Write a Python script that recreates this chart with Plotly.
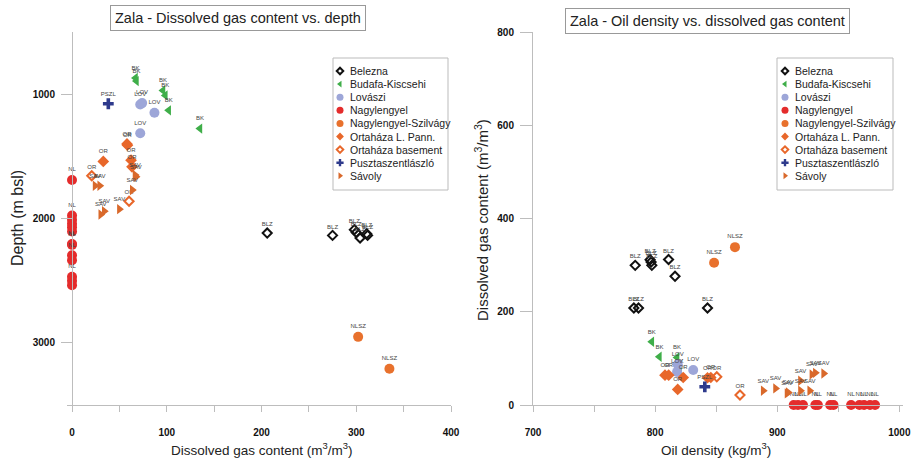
import plotly.graph_objects as go

W, H = 914, 459
NARROW = "Liberation Sans Narrow, Arial Narrow, Liberation Sans, Arial, sans-serif"
REG = "Liberation Sans, Arial, sans-serif"

# ---------------- data ----------------
series = ["Belezna", "Budafa-Kiscsehi", "Lovászi", "Nagylengyel", "Nagylengyel-Szilvágy",
          "Ortaháza L. Pann.", "Ortaháza basement", "Pusztaszentlászló", "Sávoly"]
abbr = ["BLZ", "BK", "LOV", "NL", "NLSZ", "OR", "OR", "PSZL", "SAV"]

# Left: dissolved gas content (m3/m3) vs depth (m bsl)
blz_gas_l = [206, 275, 298, 300, 304, 311, 312]
blz_depth = [2117, 2136, 2090, 2112, 2157, 2122, 2136]
bk_gas_l = [67, 68, 96, 98.5, 102, 135]
bk_depth = [870, 895, 970, 1010, 1130, 1277]
lov_gas_l = [72, 74, 87, 72]
lov_depth = [1083, 1072, 1150, 1315]
nl_gas_l = [0, 0, 0, 0, 0, 0, 0, 0, 0, 0, 0, 0, 0]
nl_depth = [1690, 1976, 2010, 2043, 2070, 2104, 2205, 2212, 2296, 2336, 2469, 2501, 2536]
nl_labels_l = ["NL", "NL", "", "", "", "", "NL", "NL", "NL", "", "NL", "", ""]
nlsz_gas_l = [302, 335]
nlsz_depth = [2952, 3208]
orp_gas_l = [58, 58.5, 33, 62.3, 63.3]
orp_depth = [1400, 1410, 1541, 1531, 1584]
orb_gas_l = [20.8, 60.2]
orb_depth = [1656, 1861]
pszl_gas_l = [38.3]
pszl_depth = [1077]
sav_gas_l = [67.5, 66.5, 24.3, 29.2, 63.6, 50, 34, 30.3]
sav_depth = [1664, 1650, 1736, 1736, 1771, 1925, 1941, 1968]

# Right: oil density (kg/m3) vs dissolved gas content (m3/m3)
blz_dens = [783.7, 795.9, 796.7, 797.3, 811, 816.3, 782.6, 786.4, 842.9]
blz_gas_r = [299.5, 311.7, 306.5, 299.5, 312, 276, 208, 208, 208]
bk_dens = [797.3, 803.5, 818, 820]
bk_gas_r = [135.5, 103.4, 102, 73]
lov_dens = [818.5, 818, 831.2]
lov_gas_r = [87, 71, 75]
nl_dens = [913.5, 917, 921.1, 931.2, 933.3, 943.4, 946.1, 960.5, 967.3, 971.1, 976, 980.1]
nl_gas_r = [0, 0, 0, 0, 0, 0, 0, 0, 0, 0, 0, 0]
nlsz_dens = [848.3, 865.4]
nlsz_gas_r = [305, 338.6]
orp_dens = [808.1, 811.1, 823, 818.5, 842.9, 845.6]
orp_gas_r = [64, 64, 59, 33.5, 58.4, 59]
orb_dens = [850.5, 869.5]
orb_gas_r = [60.5, 21.4]
pszl_dens = [840.7]
pszl_gas_r = [39]
sav_dens = [888.5, 898.6, 908, 909, 919, 919, 926.6, 928.4, 931.2, 938]
sav_gas_r = [30.7, 35.6, 25, 27, 52, 30.7, 30.7, 65.6, 69, 67.7]

left_x_ticks = [0, 100, 200, 300, 400]
left_y_ticks = [1000, 2000, 3000]
right_x_ticks = [700, 800, 900, 1000]
right_y_ticks = [0, 200, 400, 600, 800]

# ---------------- styles ----------------
styles = [
    dict(symbol="diamond-open", size=7, color="#111111", line=dict(width=2, color="#111111")),
    dict(symbol="triangle-left", size=9, color="#3FAE49", line=dict(width=0)),
    dict(symbol="circle", size=10, color="#9DA6D8", line=dict(width=0)),
    dict(symbol="circle", size=10, color="#E42C2C", line=dict(width=0)),
    dict(symbol="circle", size=10, color="#E8712D", line=dict(width=0)),
    dict(symbol="diamond", size=9, color="#E8672A", line=dict(width=0)),
    dict(symbol="diamond-open", size=7, color="#E8672A", line=dict(width=2, color="#E8672A")),
    dict(symbol="cross", size=9, color="#2E3A8C", line=dict(width=0)),
    dict(symbol="triangle-right", size=9, color="#D9692B", line=dict(width=0)),
]

left_data = [
    (blz_gas_l, blz_depth, None), (bk_gas_l, bk_depth, None), (lov_gas_l, lov_depth, None),
    (nl_gas_l, nl_depth, nl_labels_l), (nlsz_gas_l, nlsz_depth, None), (orp_gas_l, orp_depth, None),
    (orb_gas_l, orb_depth, None), (pszl_gas_l, pszl_depth, None), (sav_gas_l, sav_depth, None),
]
right_data = [
    (blz_dens, blz_gas_r), (bk_dens, bk_gas_r), (lov_dens, lov_gas_r), (nl_dens, nl_gas_r),
    (nlsz_dens, nlsz_gas_r), (orp_dens, orp_gas_r), (orb_dens, orb_gas_r),
    (pszl_dens, pszl_gas_r), (sav_dens, sav_gas_r),
]

fig = go.Figure()
lblfont = dict(size=6, color="#444444", family=REG)

for i, (xs, ys, labs) in enumerate(left_data):
    fig.add_trace(go.Scatter(
        x=xs, y=ys, mode="markers+text", name=series[i],
        text=labs if labs is not None else [abbr[i]] * len(xs),
        textposition="top center", textfont=lblfont,
        marker=styles[i], xaxis="x", yaxis="y", cliponaxis=False, showlegend=False))

for i, (xs, ys) in enumerate(right_data):
    fig.add_trace(go.Scatter(
        x=xs, y=ys, mode="markers+text", name=series[i],
        text=[abbr[i]] * len(xs), textposition="top center", textfont=lblfont,
        marker=styles[i], xaxis="x2", yaxis="y2", cliponaxis=False, showlegend=False))

# ---------------- custom legends (pixel overlay axis) ----------------
annotations = []
shapes = []
for lx, bx0, bx1 in [(340, 333, 448), (785, 777, 893)]:
    shapes.append(dict(type="rect", xref="x3", yref="y3", x0=bx0, x1=bx1, y0=58, y1=190,
                       line=dict(color="#BBBBBB", width=1), fillcolor="white", layer="below"))
    for i, name in enumerate(series):
        yy = 71 + 13.1 * i
        st = dict(styles[i])
        st["size"] = max(st["size"] - 3, 5)
        fig.add_trace(go.Scatter(x=[lx], y=[yy], mode="markers", marker=st,
                                 xaxis="x3", yaxis="y3", showlegend=False,
                                 hoverinfo="skip", cliponaxis=False))
        annotations.append(dict(x=lx + 8, y=yy, xref="x3", yref="y3", text=name,
                                showarrow=False, xanchor="left", yanchor="middle",
                                font=dict(size=10.5, family=REG, color="#222222")))

# titles
annotations.append(dict(x=238, y=18, xref="x3", yref="y3", showarrow=False,
                        text="Zala - Dissolved gas content vs. depth",
                        font=dict(size=14.5, family=NARROW, color="#222222"),
                        bordercolor="#999999", borderwidth=1, borderpad=4, bgcolor="white"))
annotations.append(dict(x=707, y=21, xref="x3", yref="y3", showarrow=False,
                        text="Zala - Oil density vs. dissolved gas content",
                        font=dict(size=14.5, family=NARROW, color="#222222"),
                        bordercolor="#999999", borderwidth=1, borderpad=4, bgcolor="white"))
# axis titles
annotations.append(dict(x=262, y=449, xref="x3", yref="y3", showarrow=False,
                        text="Dissolved gas content (m<sup>3</sup>/m<sup>3</sup>)",
                        font=dict(size=13.5, family=NARROW, color="#222222")))
annotations.append(dict(x=716, y=449, xref="x3", yref="y3", showarrow=False,
                        text="Oil density (kg/m<sup>3</sup>)",
                        font=dict(size=13.5, family=NARROW, color="#222222")))
annotations.append(dict(x=17, y=218, xref="x3", yref="y3", showarrow=False, textangle=-90,
                        text="Depth (m bsl)", font=dict(size=16, family=REG, color="#222222")))
annotations.append(dict(x=481, y=220, xref="x3", yref="y3", showarrow=False, textangle=-90,
                        text="Dissolved gas content (m<sup>3</sup>/m<sup>3</sup>)",
                        font=dict(size=15, family=REG, color="#222222")))

AX = "#BDBDBD"
tickfont = dict(size=10, family=NARROW, color="#111111", weight="bold")
ydom = [1 - 405 / H, 1 - 32 / H]

fig.update_layout(
    width=W, height=H, margin=dict(l=0, r=0, t=0, b=0, pad=0, autoexpand=False),
    paper_bgcolor="white", plot_bgcolor="rgba(0,0,0,0)",
    xaxis=dict(domain=[67 / W, 451 / W], range=[-5.3, 400], anchor="y",
               showline=True, linecolor=AX, ticks="outside", tickcolor=AX, ticklen=6,
               tickvals=left_x_ticks, minor=dict(tick0=0, dtick=50, ticks="outside",
                                                 ticklen=6, tickcolor=AX),
               showgrid=False, zeroline=False, tickfont=tickfont, ticklabelstandoff=12,
               automargin=False),
    yaxis=dict(domain=ydom, range=[3500, 500], anchor="free", position=72 / W,
               showline=True, linecolor=AX, ticks="outside", tickcolor=AX, ticklen=11,
               tickvals=left_y_ticks, showgrid=False, zeroline=False, tickfont=tickfont,
               ticklabelstandoff=4, automargin=False),
    xaxis2=dict(domain=[533 / W, 903 / W], range=[700, 1003], anchor="y2",
                showline=True, linecolor=AX, ticks="outside", tickcolor=AX, ticklen=6,
                tickvals=right_x_ticks, minor=dict(tick0=700, dtick=50, ticks="outside",
                                                   ticklen=6, tickcolor=AX),
                showgrid=False, zeroline=False, tickfont=tickfont, ticklabelstandoff=12,
                automargin=False),
    yaxis2=dict(domain=ydom, range=[0, 800], anchor="x2",
                showline=True, linecolor=AX, ticks="outside", tickcolor=AX, ticklen=12,
                tickvals=right_y_ticks, showgrid=False, zeroline=False, tickfont=tickfont,
                ticklabelstandoff=4, automargin=False),
    xaxis3=dict(domain=[0, 1], range=[0, W], anchor="y3", visible=False, fixedrange=True,
                automargin=False),
    yaxis3=dict(domain=[0, 1], range=[H, 0], anchor="x3", visible=False, fixedrange=True,
                automargin=False),
    annotations=annotations, shapes=shapes, showlegend=False,
)

fig.write_html("out.html")
